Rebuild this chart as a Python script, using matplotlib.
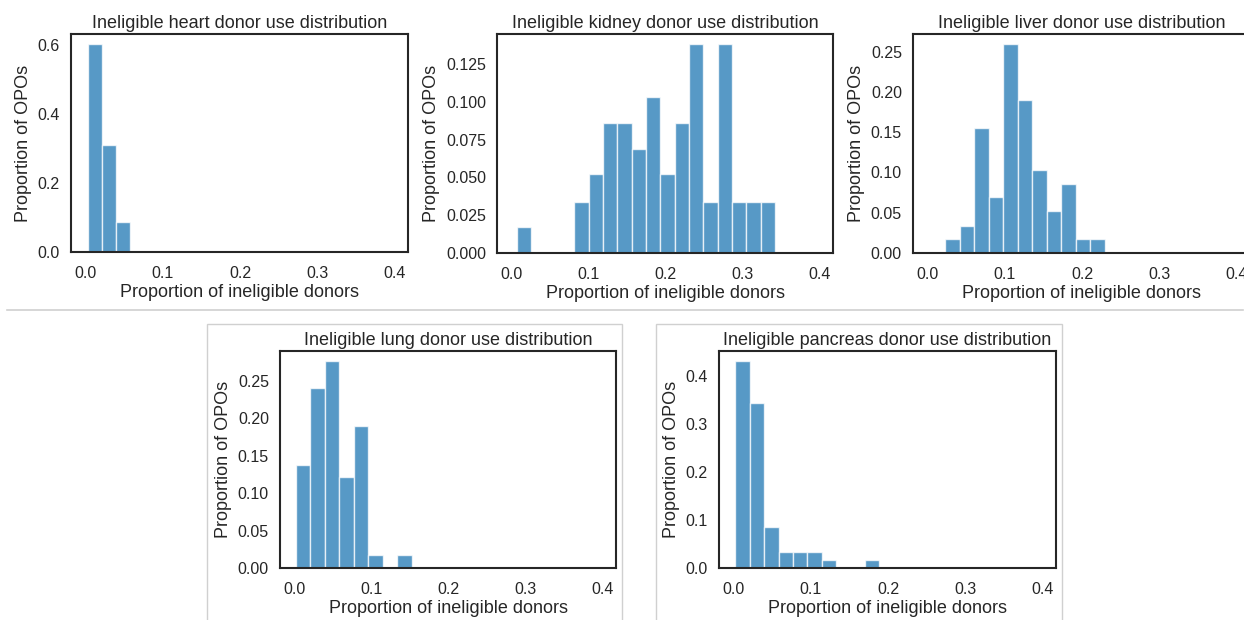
import matplotlib
matplotlib.use("Agg")
import matplotlib.pyplot as plt
from matplotlib.lines import Line2D
from matplotlib.patches import Rectangle
import numpy as np

plt.rcParams['font.family'] = ['Liberation Sans', 'DejaVu Sans']

# Histogram data: proportion of OPOs per bin of "proportion of ineligible donors"
heart_start, heart_width = 0.003, 0.018
heart_props = [0.603, 0.310, 0.086]

kidney_start, kidney_width = 0.0069, 0.0186
kidney_props = [0.017, 0.0, 0.0, 0.0, 0.034, 0.052, 0.086, 0.086, 0.069,
                0.103, 0.052, 0.086, 0.138, 0.034, 0.138, 0.034, 0.034, 0.034]

liver_start, liver_width = 0.0229, 0.01875
liver_props = [0.017, 0.034, 0.155, 0.069, 0.259, 0.190, 0.103, 0.052,
               0.086, 0.017, 0.017]

lung_start, lung_width = 0.0013, 0.0188
lung_props = [0.138, 0.241, 0.276, 0.121, 0.190, 0.017, 0.0, 0.017]

pancreas_start, pancreas_width = 0.0022, 0.0186
pancreas_props = [0.431, 0.345, 0.086, 0.034, 0.034, 0.034, 0.017, 0.0, 0.0, 0.017]

organs = ["heart", "kidney", "liver", "lung", "pancreas"]
panels = {
    "heart": (heart_start, heart_width, heart_props),
    "kidney": (kidney_start, kidney_width, kidney_props),
    "liver": (liver_start, liver_width, liver_props),
    "lung": (lung_start, lung_width, lung_props),
    "pancreas": (pancreas_start, pancreas_width, pancreas_props),
}
x_ticks = [0.0, 0.1, 0.2, 0.3, 0.4]
y_ticks = {
    "heart": [0.0, 0.2, 0.4, 0.6],
    "kidney": [0.0, 0.025, 0.05, 0.075, 0.1, 0.125],
    "liver": [0.0, 0.05, 0.1, 0.15, 0.2, 0.25],
    "lung": [0.0, 0.05, 0.1, 0.15, 0.2, 0.25],
    "pancreas": [0.0, 0.1, 0.2, 0.3, 0.4],
}
y_fmt = {"heart": "{:.1f}", "kidney": "{:.3f}", "liver": "{:.2f}",
         "lung": "{:.2f}", "pancreas": "{:.1f}"}

W, H = 1244, 620
fig = plt.figure(figsize=(W / 100, H / 100), dpi=100)

# axes boxes in pixels: left, top, right, bottom
boxes = {
    "heart": (71, 34, 408, 252),
    "kidney": (497, 34, 833, 253),
    "liver": (913, 34, 1250, 253),
    "lung": (280, 351, 616, 568),
    "pancreas": (719, 351, 1056, 568),
}

def px_axes(l, t, r, b):
    return fig.add_axes([l / W, 1 - b / H, (r - l) / W, (b - t) / H])

ink = '#262626'
bar_color = '#1f77b4'

# row separator and frames around the lower panels
fig.add_artist(Line2D([7 / W, 1243 / W], [1 - 310 / H, 1 - 310 / H],
                      color='#d0d0d0', lw=1.2))
for l, r in [(207, 622), (656, 1062)]:
    fig.add_artist(Rectangle((l / W, 0 - 0.01), (r - l) / W, (H - 324) / H + 0.01,
                             fill=False, edgecolor='#d0d0d0', lw=1.0))

for organ in organs:
    start, width, props = panels[organ]
    ax = px_axes(*boxes[organ])
    edges = start + width * np.arange(len(props))
    ax.bar(edges, props, width=width, align='edge', color=bar_color,
           alpha=0.75, edgecolor='white', linewidth=1.0)
    ax.set_xlim(-0.019, 0.417)
    ax.set_ylim(0, max(props) * 1.05)
    ax.set_xticks(x_ticks)
    ax.set_xticklabels([f"{v:.1f}" for v in x_ticks])
    ax.set_yticks(y_ticks[organ])
    ax.set_yticklabels([y_fmt[organ].format(v) for v in y_ticks[organ]])
    ax.tick_params(length=0, labelsize=11.5, colors=ink)
    ax.tick_params(axis='x', pad=10)
    ax.tick_params(axis='y', pad=8)
    for s in ax.spines.values():
        s.set_color(ink)
        s.set_linewidth(1.5)
    ax.set_title(f"Ineligible {organ} donor use distribution", fontsize=13,
                 color=ink, pad=4)
    ax.set_xlabel("Proportion of ineligible donors", fontsize=13, color=ink,
                  labelpad=2)
    ax.set_ylabel("Proportion of OPOs", fontsize=13, color=ink, labelpad=4)

fig.savefig("out.png", dpi=100)
